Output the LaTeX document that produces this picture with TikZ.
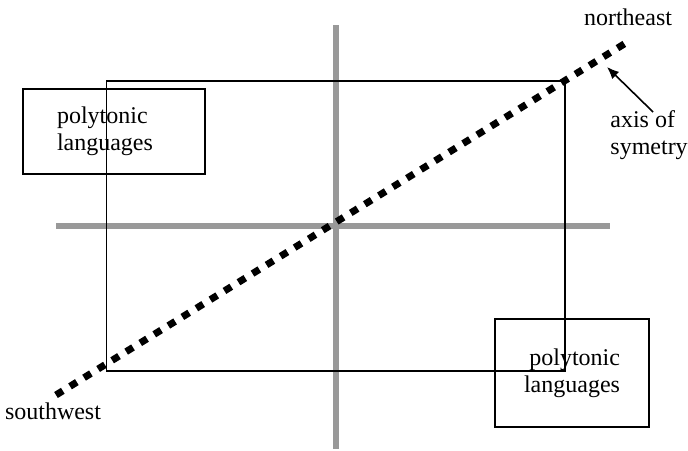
\documentclass[tikz,border=0pt]{standalone}
\usepackage{fontspec}
\setmainfont{Liberation Serif}
\usetikzlibrary{arrows.meta}

\begin{document}
\begin{tikzpicture}[
      x=0.5pt, y=-0.5pt,
      font=\fontsize{12}{13.5}\selectfont,
      axisline/.style={
        line width=3pt,
        color=black!40
      },
      frame/.style={
        draw,
        line width=0.6pt
      },
      box/.style={
        draw,
        line width=0.6pt
      },
      symline/.style={
        line width=3.5pt,
        dash pattern=on 4pt off 4.25pt
      },
      pointer/.style={
        -{Latex[length=6pt,width=5pt]},
        line width=0.8pt
      }
    ]
    \useasboundingbox (0,0) rectangle (688,450);

    % cross of the two axes
    \draw[axisline] (336,25) -- (336,449);
    \draw[axisline] (56,226) -- (610,226);

    \draw[frame] (106.5,81) rectangle (565,371);

    \node[box, align=left, text width=57pt, inner xsep=17pt,
      minimum height=42.5pt] (upper) at (114,131.5) {
      polytonic\\
      languages
    };

    \node[box, align=right, minimum width=77pt,
      minimum height=54pt] (lower) at (572,373) {
      polytonic\\
      languages
    };

    \node[anchor=base] (northeast) at (628,25) {northeast};
    \node[anchor=base] (southwest) at (53,419) {southwest};
    \node[align=left, anchor=north west, inner sep=0pt] (axis) at (610,110) {
      axis of\\
      symetry
    };

    % axis of symetry
    \coordinate (sw) at (56,395);
    \coordinate (ne) at (629,41);
    \draw[symline] (sw) -- (ne);

    \coordinate (axtip) at (607,67);
    \draw[pointer] ([xshift=2pt,yshift=-1pt]axis.north) -- (axtip);

    \end{tikzpicture}
\end{document}
